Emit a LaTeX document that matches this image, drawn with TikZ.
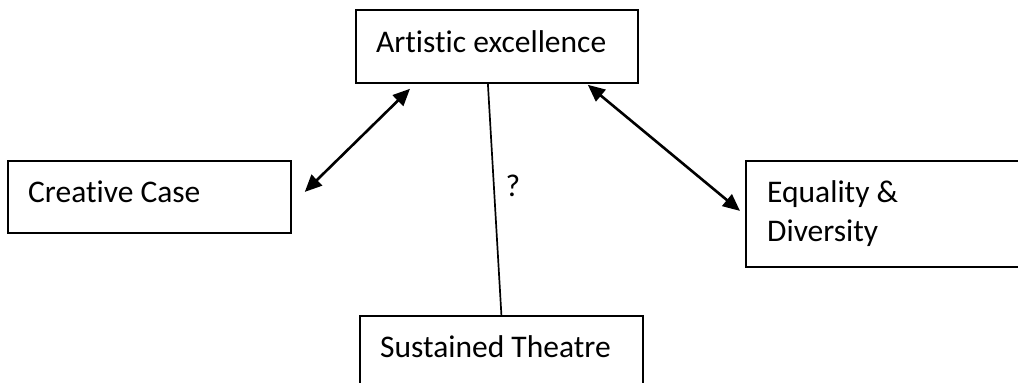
\documentclass[tikz,border=0pt]{standalone}
\usepackage{fontspec}
\setmainfont{Carlito}[RawFeature={-liga,-clig,-dlig,-calt}]
\usetikzlibrary{arrows.meta,calc}
\tikzset{
  box/.style={draw=black, line width=1.8pt, rectangle, inner sep=0pt, anchor=north west},
  lbl/.style={anchor=base west, inner sep=0pt, font=\fontsize{31.5}{40}\selectfont},
  biarrow/.style={line width=2.6pt, {Triangle[length=17pt,width=15pt]}-{Triangle[length=17pt,width=15pt]}},
  thin/.style={line width=1.7pt}
}
\begin{document}
\begin{tikzpicture}[x=1pt,y=-1pt]
\useasboundingbox (0,0) rectangle (1018,383);
\clip (0,0) rectangle (1018,383);
\fill[white] (0,0) rectangle (1018,383);
% boxes
\node[box, minimum width=282pt, minimum height=73pt] (ae) at (355,9) {};
\node[box, minimum width=283pt, minimum height=72pt] (cc) at (7,160) {};
\node[box, minimum width=300pt, minimum height=106pt] (eq) at (745,160) {};
\node[box, minimum width=283pt, minimum height=120pt] (st) at (359,315) {};
% texts
\node[lbl] (aet) at (376,52) {Artistic excellence};
\node[lbl] (cct) at (28,202) {Creative Case};
\node[lbl] (eqt) at (767,202) {Equality \&};
\node[lbl] (eqt2) at (767,241) {Diversity};
\node[lbl] (stt) at (380,357) {Sustained Theatre};
% connectors
\draw[biarrow] ($(cc.east)+(13,-5)$) -- ($(ae.south west)+(55,5)$);
\draw[biarrow] ($(ae.south east)+(-51,1)$) -- ($(eq.west)+(-5,-3)$);
\draw[thin] ($(ae.south)+(-9,0)$) -- (st.north);
\node[lbl, anchor=center] (qm) at (513,186) {?};
\end{tikzpicture}
\end{document}
